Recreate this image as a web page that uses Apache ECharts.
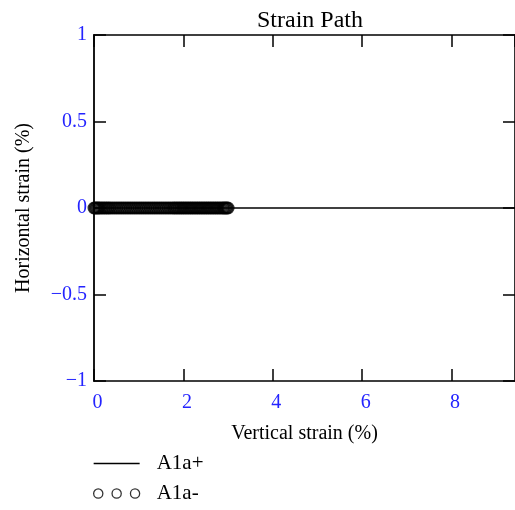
<!DOCTYPE html>
<html>
<head>
<meta charset="utf-8">
<script src="https://cdn.jsdelivr.net/npm/echarts@6/dist/echarts.min.js"></script>
<style>
html,body{margin:0;padding:0;background:#fff;}
#chart{width:515px;height:510px;}
</style>
</head>
<body>
<div id="chart"></div>
<script>
var titleText = "Strain Path";
var xName = "Vertical strain (%)";
var yName = "Horizontal strain (%)";
var seriesNames = ["A1a+", "A1a-"];
// A1a+ : horizontal line at 0 across whole range
var plusX = [0, 10];
var plusY = [0, 0];
// A1a- : dense circles along y = 0 from 0 to ~3.0
var minusX = [0.00,0.03,0.06,0.09,0.12,0.16,0.20,0.24,0.28,0.32,0.36,0.41,0.46,0.51,0.56,0.61,0.66,0.71,0.76,0.81,0.86,0.91,0.96,1.01,1.06,1.11,1.16,1.21,1.26,1.31,1.36,1.41,1.46,1.51,1.56,1.61,1.66,1.71,1.76,1.80,1.84,1.88,1.92,1.96,2.00,2.04,2.08,2.12,2.16,2.20,2.24,2.28,2.32,2.36,2.40,2.44,2.48,2.52,2.56,2.60,2.64,2.68,2.72,2.76,2.80,2.84,2.88,2.91,2.94,2.97,3.00];
var minusY = [0,0,0,0,0,0,0,0,0,0,0,0,0,0,0,0,0,0,0,0,0,0,0,0,0,0,0,0,0,0,0,0,0,0,0,0,0,0,0,0,0,0,0,0,0,0,0,0,0,0,0,0,0,0,0,0,0,0,0,0,0,0,0,0,0,0,0,0,0,0,0];

var serif = "'Liberation Serif','DejaVu Serif',serif";
var blue = "#2424ff";

function pairs(xs, ys){ return xs.map(function(x,i){return [x, ys[i]];}); }
function fmt(v){ return String(v).replace('-', '\u2212'); }

var chart = echarts.init(document.getElementById('chart'), null, {renderer:'canvas'});
chart.setOption({
  animation:false,
  backgroundColor:'#fff',
  title:{text:titleText, left:257, top:9, padding:0, textStyle:{fontFamily:serif, fontSize:24, fontWeight:'normal', color:'#000'}},
  grid:{left:94, top:35, right:-3, bottom:129, containLabel:false},
  legend:{
    orient:'vertical', left:93, top:453, padding:0, itemWidth:46, itemHeight:10, itemGap:9,
    textStyle:{fontFamily:serif, fontSize:21, color:'#000', padding:[0,0,0,12]},
    data:[
      {name:seriesNames[0], icon:'path://M0,4.2H46V5.8H0Z', itemStyle:{color:'#000'}},
      {name:seriesNames[1], icon:'path://M0.5,5a4.5,4.5 0 1,0 9,0a4.5,4.5 0 1,0 -9,0M18.5,5a4.5,4.5 0 1,0 9,0a4.5,4.5 0 1,0 -9,0M36.5,5a4.5,4.5 0 1,0 9,0a4.5,4.5 0 1,0 -9,0', itemStyle:{color:'transparent', borderColor:'#000', borderWidth:1.3}}
    ]
  },
  xAxis:[
    {type:'value', min:0, max:9.42, interval:2, position:'bottom',
     name:xName, nameLocation:'middle', nameGap:43,
     nameTextStyle:{fontFamily:serif, fontSize:20, color:'#000'},
     axisLine:{show:true, onZero:false, lineStyle:{color:'#000', width:1.6}},
     axisTick:{show:true, inside:true, length:12, lineStyle:{color:'#000', width:1.5}},
     axisLabel:{color:blue, fontFamily:serif, fontSize:20, margin:12, padding:[0,0,0,7], showMaxLabel:false, formatter:fmt},
     splitLine:{show:false}},
    {type:'value', min:0, max:9.42, interval:2, position:'top',
     axisLine:{show:true, onZero:false, lineStyle:{color:'#000', width:1.6}},
     axisTick:{show:true, inside:true, length:12, lineStyle:{color:'#000', width:1.5}},
     axisLabel:{show:false}, splitLine:{show:false}}
  ],
  yAxis:[
    {type:'value', min:-1, max:1, interval:0.5, position:'left',
     name:yName, nameLocation:'middle', nameGap:60, nameRotate:90,
     nameTextStyle:{fontFamily:serif, fontSize:20, color:'#000'},
     axisLine:{show:true, onZero:false, lineStyle:{color:'#000', width:1.8}},
     axisTick:{show:true, inside:true, length:12, lineStyle:{color:'#000', width:1.5}},
     axisLabel:{color:blue, fontFamily:serif, fontSize:20, margin:7, formatter:fmt},
     splitLine:{show:false}},
    {type:'value', min:-1, max:1, interval:0.5, position:'right',
     axisLine:{show:true, onZero:false, lineStyle:{color:'#000', width:1.6}},
     axisTick:{show:true, inside:true, length:12, lineStyle:{color:'#000', width:1.5}},
     axisLabel:{show:false}, splitLine:{show:false}}
  ],
  series:[
    {name:seriesNames[0], type:'line', data:pairs(plusX, plusY), symbol:'none',
     lineStyle:{color:'#000', width:1.4}, itemStyle:{color:'#000'}, z:2},
    {name:seriesNames[1], type:'scatter', data:pairs(minusX, minusY), symbol:'circle', symbolSize:11,
     itemStyle:{color:'rgba(0,0,0,0)', borderColor:'#000', borderWidth:2}, z:3}
  ]
});
</script>
</body>
</html>
